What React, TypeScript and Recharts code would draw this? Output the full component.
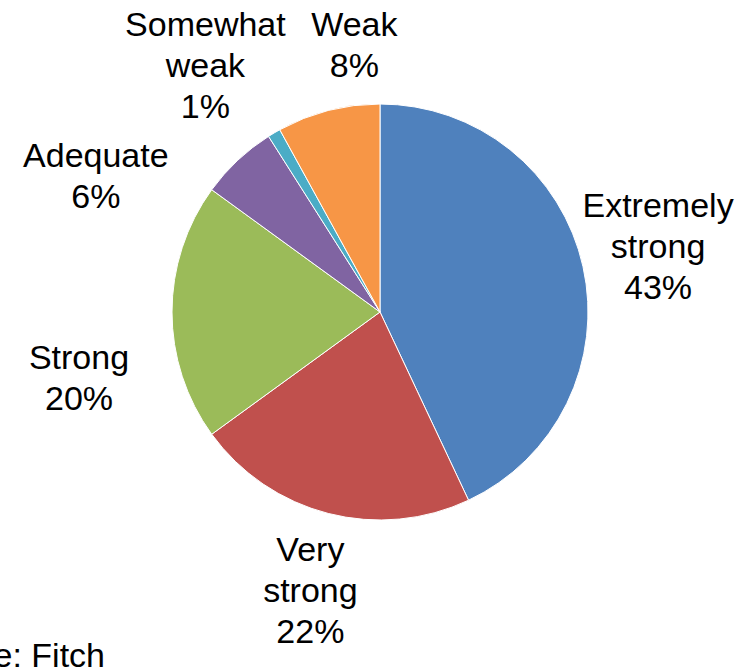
import React from "react";
import { PieChart, Pie, Cell } from "recharts";

const categories = ["Extremely strong", "Very strong", "Strong", "Adequate", "Somewhat weak", "Weak"];
const shares = [43, 22, 20, 6, 1, 8];
const sourceText = "Source: Fitch";

const colors = ["#4F81BD", "#C0504D", "#9BBB59", "#8064A2", "#4BACC6", "#F79646"];
// per-label nudges (px) from the default radial position, mimicking the original placement
const labelNudge: [number, number][] = [
  [-3, -3],
  [2, -1],
  [-13, 66],
  [-87, 74],
  [-28, 1],
  [46, 12],
];

const FONT = "'Liberation Sans', Arial, sans-serif";
const FS = 34;
const LINE = 41;
const LABEL_OFFSET = 80;
const RAD = Math.PI / 180;

const data = categories.map((name, i) => ({ name, value: shares[i] }));

const renderLabel = (props: any) => {
  const { cx, cy, midAngle, outerRadius, index } = props;
  const r = outerRadius + LABEL_OFFSET;
  const x = cx + r * Math.cos(-midAngle * RAD) + labelNudge[index][0];
  const y = cy + r * Math.sin(-midAngle * RAD) + labelNudge[index][1];
  const lines = [...categories[index].split(" "), `${shares[index]}%`];
  const n = lines.length;
  return (
    <text
      key={`lbl-${index}`}
      x={x}
      y={y}
      textAnchor="middle"
      fontFamily={FONT}
      fontSize={FS}
      fill="#000"
    >
      {lines.map((ln, i) => (
        <tspan key={i} x={x} y={y + (i - (n - 1) / 2) * LINE + FS * 0.35}>
          {ln}
        </tspan>
      ))}
    </text>
  );
};

export default function App() {
  return (
    <div style={{ position: "absolute", left: 0, top: 0, width: 749, height: 672, background: "#fff" }}>
      <PieChart width={749} height={672} margin={{ top: 0, right: 0, bottom: 0, left: 0 }}>
        <Pie
          data={data}
          dataKey="value"
          nameKey="name"
          cx={380}
          cy={312}
          outerRadius={208}
          startAngle={90}
          endAngle={-270}
          stroke="#ffffff"
          strokeWidth={1}
          label={renderLabel}
          labelLine={false}
          isAnimationActive={false}
        >
          {data.map((d, i) => (
            <Cell key={d.name} fill={colors[i]} />
          ))}
        </Pie>
      </PieChart>
      <svg
        width={749}
        height={672}
        style={{ position: "absolute", left: 0, top: 0, pointerEvents: "none" }}
      >
        <text x={105} y={667} textAnchor="end" fontFamily={FONT} fontSize={FS} fill="#000">
          {sourceText}
        </text>
      </svg>
    </div>
  );
}
